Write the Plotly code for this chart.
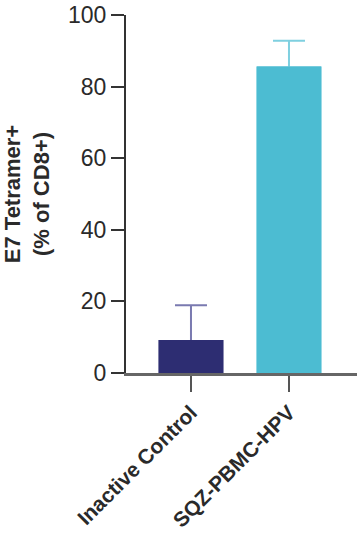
import plotly.graph_objects as go

categories = ["Inactive Control", "SQZ-PBMC-HPV"]
means = [9.2, 85.6]
errors_up = [9.7, 7.2]
bar_colors = ["#2D2D72", "#4CBCD2"]
err_colors = ["#7A7AB0", "#7FD0E0"]
y_ticks = [0, 20, 40, 60, 80, 100]

FONT = "Liberation Sans, Arial, sans-serif"

fig = go.Figure()
# error bars (upper only); the lower end is hidden under the overlaid bars
for i, cat in enumerate(categories):
    fig.add_trace(go.Bar(
        x=[i], y=[means[i]],
        width=0.66,
        marker=dict(color=bar_colors[i], line=dict(width=0)),
        error_y=dict(type="data", array=[errors_up[i]], arrayminus=[2],
                     symmetric=False, color=err_colors[i], thickness=2, width=16),
        showlegend=False, hoverinfo="skip",
    ))
for i, cat in enumerate(categories):
    fig.add_trace(go.Bar(
        x=[i], y=[means[i]],
        width=0.66,
        marker=dict(color=bar_colors[i], line=dict(width=0)),
        showlegend=False, name=cat,
    ))

fig.update_layout(
    width=359, height=542,
    margin=dict(l=126, r=2, t=13, b=169),
    paper_bgcolor="white", plot_bgcolor="white",
    font=dict(family=FONT, size=22, color="#2a2a2a"),
    barmode="overlay",
)
fig.update_xaxes(
    range=[-0.663, 1.694],
    tickmode="array", tickvals=[0, 1], ticktext=categories,
    tickangle=-45, ticks="outside", ticklen=16, tickwidth=2, tickcolor="#555",
    showline=True, linecolor="#666", linewidth=3,
    showgrid=False, zeroline=False,
    tickfont=dict(family=FONT, size=21, color="#2a2a2a", weight="bold"),
)
fig.update_yaxes(
    range=[0, 100],
    tickvals=y_ticks,
    ticks="outside", ticklen=13, tickwidth=2, tickcolor="#333",
    showline=True, linecolor="#333", linewidth=2,
    showgrid=False, zeroline=False,
    tickfont=dict(family=FONT, size=23, color="#2a2a2a"),
    title=dict(text="E7 Tetramer+<br>(% of CD8+)", standoff=14,
               font=dict(family=FONT, size=22, color="#2a2a2a", weight="bold")),
)
fig.write_html("out.html")
